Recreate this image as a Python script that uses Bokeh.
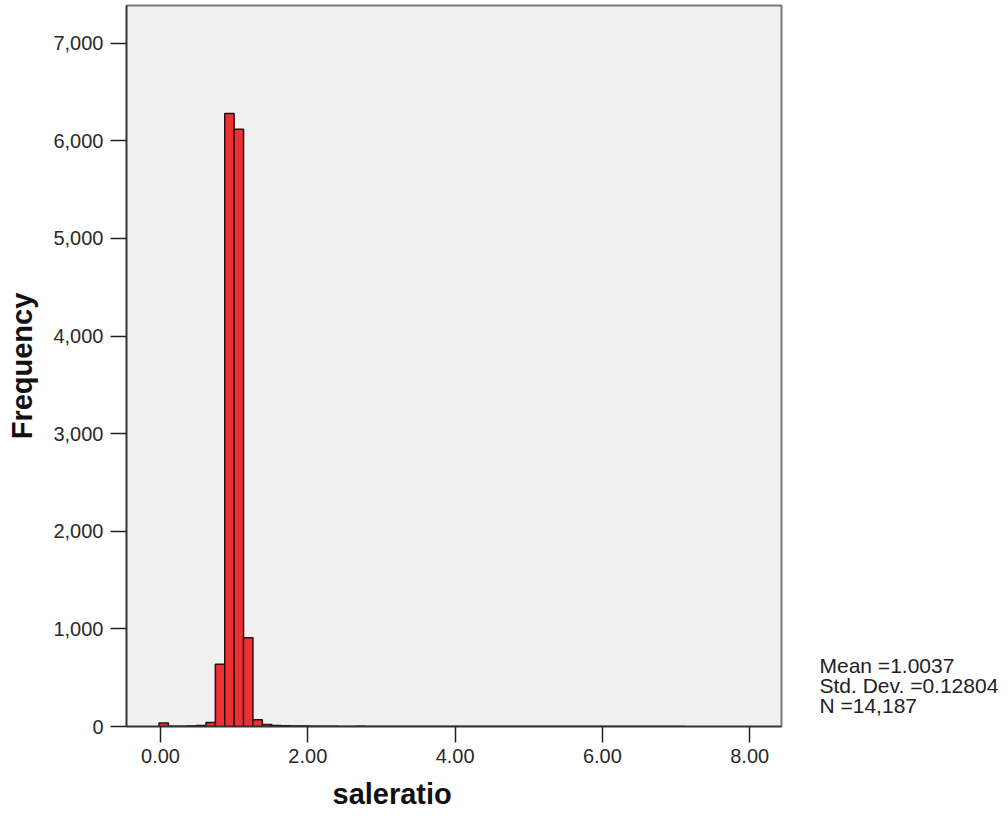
import numpy as np
from bokeh.plotting import figure
from bokeh.layouts import row
from bokeh.models import Range1d, FixedTicker, NumeralTickFormatter, ColumnDataSource, Title
from bokeh.core.properties import value
from bokeh.embed import file_html
from bokeh.resources import INLINE

# ---- data ----
bin_start = -0.02
bin_width = 0.1275
counts = [35, 3, 2, 4, 9, 42, 637, 6280, 6120, 910, 70, 20, 11, 7, 5, 4, 3, 2, 2, 1,
          1, 2, 1, 1, 1, 1, 0, 1, 1, 0, 1, 1, 1, 0, 1, 1, 1, 0, 1, 1,
          1, 0, 1, 1, 0, 1, 1, 0, 1, 1, 0, 1, 1, 0, 1, 1]
x_ticks = [0, 2, 4, 6, 8]
y_ticks = [0, 1000, 2000, 3000, 4000, 5000, 6000, 7000]
stats_lines = ["Mean =1.0037", "Std. Dev. =0.12804", "N =14,187"]
x_label = "saleratio"
y_label = "Frequency"

FONT = "Liberation Sans"

n = len(counts)
lefts = bin_start + bin_width * np.arange(n)
rights = lefts + bin_width
src = ColumnDataSource(dict(left=lefts, right=rights, top=counts, bottom=[0] * n))

p = figure(width=790, height=820, output_backend="svg", toolbar_location=None,
           x_range=Range1d(-0.4616, 8.432), y_range=Range1d(0, 7387),
           min_border_left=126, min_border_right=9, min_border_top=5, min_border_bottom=94)

p.background_fill_color = "#F0F0F0"
p.border_fill_color = "white"
p.outline_line_color = "#7a7a7a"
p.outline_line_width = 2
p.grid.visible = False

p.quad(left="left", right="right", top="top", bottom="bottom", source=src,
       fill_color="#EE3035", line_color="#2a1010", line_width=1.5)

# axes
p.xaxis.ticker = FixedTicker(ticks=x_ticks)
p.yaxis.ticker = FixedTicker(ticks=y_ticks)
p.xaxis.formatter = NumeralTickFormatter(format="0.00")
p.yaxis.formatter = NumeralTickFormatter(format="0,0")
for ax in (p.xaxis[0], p.yaxis[0]):
    ax.major_tick_out = 16
    ax.major_tick_in = 0
    ax.minor_tick_out = 0
    ax.minor_tick_in = 0
    ax.major_tick_line_color = "#222222"
    ax.major_tick_line_width = 1.5
    ax.axis_line_color = "#333333"
    ax.axis_line_width = 1.5
    ax.major_label_text_font = FONT
    ax.major_label_text_font_size = "20px"
    ax.major_label_text_color = "#2a2a2a"
    ax.axis_label_text_font = FONT
    ax.axis_label_text_font_size = "29px"
    ax.axis_label_text_font_style = "bold"
    ax.axis_label_text_color = "#111111"

p.yaxis.axis_label = y_label
p.xaxis.major_label_standoff = 6
p.yaxis.major_label_standoff = 7
p.yaxis.axis_label_standoff = 12

# x-axis title, shifted left as in the reference
p.add_layout(Title(text=x_label, align="left", offset=206, text_font=FONT,
                   text_font_size="29px", text_font_style="bold", text_color="#111111",
                   standoff=20), "below")

# statistics panel to the right (its frame is aligned with the main frame: pixels 5..726)
s = figure(width=218, height=820, output_backend="svg", toolbar_location=None,
           x_range=Range1d(0, 218), y_range=Range1d(726, 5),
           x_axis_location=None, y_axis_location=None, title=None,
           min_border=0, outline_line_color=None)
s.grid.visible = False
s.background_fill_color = "white"
s.border_fill_color = "white"
stat_x = [29, 29, 29]
stat_y = [665, 685, 705]
s.text(x=stat_x, y=stat_y, text=stats_lines, text_font=value(FONT), text_font_size="21px",
       text_color="#222222", text_baseline="middle", text_align="left")

layout = row(p, s, spacing=0)
open("out.html", "w").write(file_html(layout, INLINE))
